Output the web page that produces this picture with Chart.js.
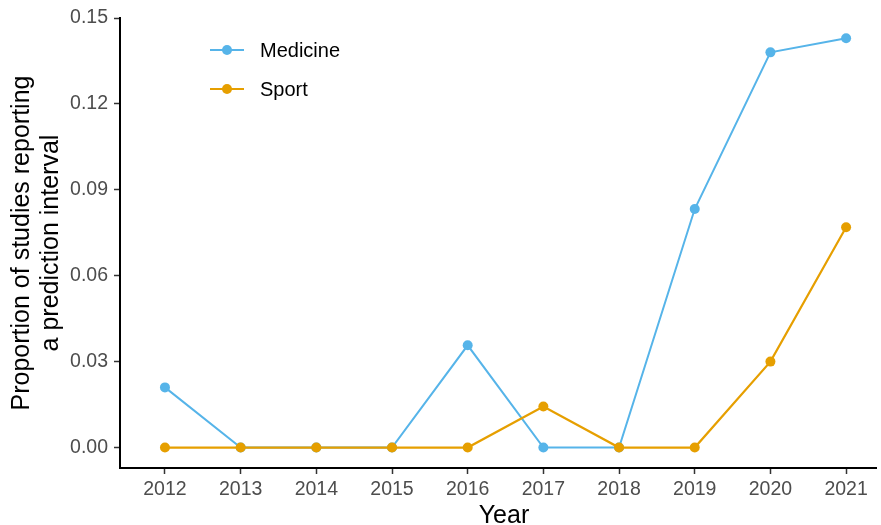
<!DOCTYPE html>
<html>
<head>
<meta charset="utf-8">
<title>Prediction intervals by year</title>
<script src="https://cdn.jsdelivr.net/npm/chart.js@4.4.0/dist/chart.umd.min.js"></script>
<style>
    html, body { margin: 0; padding: 0; background: #fff; }
    #wrap { width: 881px; height: 525px; }
</style>
</head>
<body>
<div id="wrap"><canvas id="propChart" width="881" height="525"></canvas></div>
<script>
// years on the x axis
var years = [2012, 2013, 2014, 2015, 2016, 2017, 2018, 2019, 2020, 2021];

// proportion of studies reporting a prediction interval
var medicine = [0.021, 0, 0, 0, 0.0357, 0, 0, 0.0833, 0.138, 0.1429];
var sport = [0, 0, 0, 0, 0, 0.0143, 0, 0, 0.030, 0.0769];

// y axis tick labels
var yTicks = [0, 0.03, 0.06, 0.09, 0.12, 0.15];

var tickFont = { family: '"Liberation Sans", Arial, sans-serif', size: 19.5 };
var titleFont = '25px "Liberation Sans", Arial, sans-serif';

function toPoints(values) {
    return years.map(function (yr, i) { return { x: yr, y: values[i] }; });
}

// axis titles drawn by hand so the two-line y title sits where we want it
var axisTitles = {
    id: 'axisTitles',
    afterDraw: function (chart) {
        var ctx = chart.ctx;
        var area = chart.chartArea;
        ctx.save();
        ctx.fillStyle = '#000';
        ctx.font = titleFont;
        ctx.textAlign = 'center';
        ctx.textBaseline = 'alphabetic';
        ctx.fillText('Year', (area.left + area.right) / 2 + 6, 523);

        var cy = (area.top + area.bottom) / 2;
        ctx.translate(0, cy);
        ctx.rotate(-Math.PI / 2);
        ctx.fillText('Proportion of studies reporting', 0, 29);
        ctx.fillText('a prediction interval', 0, 58);
        ctx.restore();
    }
};

// legend with line + point keys inside the plot
var lineLegend = {
    id: 'lineLegend',
    afterDraw: function (chart) {
        var ctx = chart.ctx;
        chart.data.datasets.forEach(function (ds, i) {
            var y = 50 + i * 39;
            ctx.save();
            ctx.strokeStyle = ds.borderColor;
            ctx.lineWidth = 2;
            ctx.beginPath();
            ctx.moveTo(210, y);
            ctx.lineTo(244, y);
            ctx.stroke();
            ctx.fillStyle = ds.borderColor;
            ctx.beginPath();
            ctx.arc(227, y, 5, 0, Math.PI * 2);
            ctx.fill();
            ctx.fillStyle = '#000';
            ctx.font = '20px "Liberation Sans", Arial, sans-serif';
            ctx.textAlign = 'left';
            ctx.textBaseline = 'middle';
            ctx.fillText(ds.label, 260, y + 1);
            ctx.restore();
        });
    }
};

var ctx = document.getElementById('propChart');

new Chart(ctx, {
    type: 'line',
    data: {
        datasets: [{
            label: 'Medicine',
            data: toPoints(medicine),
            borderColor: '#56B4E9',
            backgroundColor: '#56B4E9',
            borderWidth: 2,
            pointRadius: 5,
            pointBorderWidth: 0,
            order: 2
        }, {
            label: 'Sport',
            data: toPoints(sport),
            borderColor: '#E69F00',
            backgroundColor: '#E69F00',
            borderWidth: 2.2,
            pointRadius: 5,
            pointBorderWidth: 0,
            order: 1
        }]
    },
    options: {
        responsive: false,
        animation: false,
        devicePixelRatio: 1,
        layout: { padding: { top: 18, right: 0, left: 0, bottom: 0 } },
        plugins: {
            legend: { display: false },
            tooltip: { enabled: false }
        },
        scales: {
            x: {
                type: 'linear',
                min: 2011.406,
                max: 2021.395,
                afterBuildTicks: function (scale) {
                    scale.ticks = years.map(function (v) { return { value: v }; });
                },
                afterFit: function (scale) { scale.height = 57; },
                ticks: {
                    callback: function (v) { return String(v); },
                    color: '#4D4D4D',
                    font: tickFont,
                    padding: 4,
                    maxRotation: 0,
                    autoSkip: false
                },
                grid: {
                    drawOnChartArea: false,
                    drawTicks: true,
                    tickLength: 6,
                    tickWidth: 1.5,
                    tickColor: '#333'
                },
                border: { display: true, color: '#000', width: 2 }
            },
            y: {
                type: 'linear',
                min: -0.00715,
                max: 0.15,
                afterBuildTicks: function (scale) {
                    scale.ticks = yTicks.map(function (v) { return { value: v }; });
                },
                afterFit: function (scale) { scale.width = 120; },
                ticks: {
                    callback: function (v) { return v.toFixed(2); },
                    color: '#4D4D4D',
                    font: tickFont,
                    padding: 6
                },
                grid: {
                    drawOnChartArea: false,
                    drawTicks: true,
                    tickLength: 6,
                    tickWidth: 1.5,
                    tickColor: '#333'
                },
                border: { display: true, color: '#000', width: 2 }
            }
        }
    },
    plugins: [axisTitles, lineLegend]
});
</script>
</body>
</html>
